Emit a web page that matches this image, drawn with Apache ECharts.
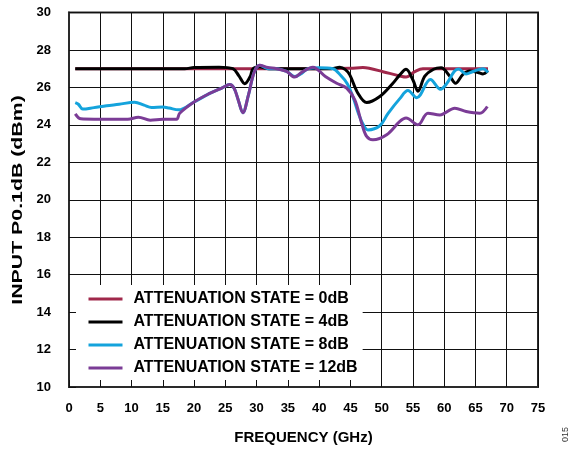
<!DOCTYPE html>
<html>
<head>
<meta charset="utf-8">
<script src="https://cdn.jsdelivr.net/npm/echarts@6/dist/echarts.min.js"></script>
<style>
html,body{margin:0;padding:0;background:#fff;}
#chart{width:574px;height:450px;}
</style>
</head>
<body>
<div id="chart"></div>
<script>
// ---- data ----
var seriesNames = ['ATTENUATION STATE = 0dB','ATTENUATION STATE = 4dB','ATTENUATION STATE = 8dB','ATTENUATION STATE = 12dB'];
var xTicks = [0,5,10,15,20,25,30,35,40,45,50,55,60,65,70,75];
var yTicks = [10,12,14,16,18,20,22,24,26,28,30];
var xTitle = 'FREQUENCY (GHz)';
var yTitle = 'INPUT P0.1dB (dBm)';

var freq0 = [1,5,10,15,20,25,30,35,40,45,47,48,50.2,52.9,53.9,55.3,56.6,58,60,63,67];
var att0  = [27.0,27.0,27.0,27.0,27.0,27.0,27.0,27.0,27.0,27.02,27.06,27.02,26.84,26.61,26.55,26.84,27.0,27.0,27.0,27.0,27.0];

var freq4 = [1,5,10,15,18.5,20,24,26.2,27.2,28.1,29,29.4,30.4,32,35,38,40,42,43.3,44.2,44.9,46.2,47.6,49.7,51.8,52.9,53.9,55,55.8,56.9,58.3,59.5,60.9,61.8,63,64.1,65.4,66.2,67];
var att4  = [27.0,27.0,27.0,27.0,27.0,27.06,27.08,27.0,26.6,26.2,26.6,26.98,27.1,27.0,27.0,27.0,27.0,27.0,27.08,26.95,26.67,25.69,25.19,25.51,26.22,26.67,26.97,26.4,25.8,26.6,26.97,27.05,26.6,26.22,26.7,26.88,26.8,26.72,26.9];

var freq8 = [1,1.5,2.2,4,6,8,10.5,12,13.2,15,16,17.5,20,22.5,24.5,25.7,26.4,27,27.8,28.7,29.6,30.5,31.8,33.2,34.8,36.1,37.2,38.2,40,42.2,43.5,44.5,45.4,46.3,47,47.8,49.7,51,52.9,54.2,55.6,57.8,59.4,60.4,61.6,62.3,63.5,64.6,66.2,67];
var att8  = [25.19,25.1,24.84,24.92,25.02,25.1,25.21,25.05,24.93,24.95,24.9,24.8,25.22,25.68,25.98,26.15,25.95,25.4,24.65,25.6,26.8,27.18,27.0,27.0,26.85,26.58,26.75,27.0,27.05,27.0,26.62,26.2,25.5,24.6,24.05,23.73,23.95,24.6,25.4,25.83,25.45,26.42,25.9,26.2,26.85,26.98,26.72,26.85,27.0,26.8];

var freq12 = [1,1.9,4,7,9.4,11.1,13,15,17.2,17.7,20,22.5,24.5,25.7,26.4,27,27.8,28.7,29.6,30.5,31.8,33.2,34.8,36.1,37.2,39,41,42.8,44.4,45.7,46.8,47.6,48.6,50.8,52.9,53.9,55.8,57.4,59.3,61.7,63.5,65.7,66.9];
var att12  = [24.59,24.32,24.3,24.3,24.3,24.41,24.25,24.3,24.3,24.62,25.22,25.68,25.98,26.15,25.95,25.4,24.65,25.6,26.8,27.18,27.06,27.0,26.85,26.55,26.8,27.08,26.58,26.22,25.96,25.33,24.09,23.38,23.2,23.47,24.18,24.36,24.0,24.62,24.53,24.89,24.71,24.62,24.98];

var colors = ['#a0284b','#000000','#14a3dc','#7b3c96'];

function pairs(xs, ys){ return xs.map(function(x,i){ return [x, ys[i]]; }); }

var font = 'Liberation Sans, Arial, sans-serif';
var chart = echarts.init(document.getElementById('chart'), null, {renderer:'canvas'});

var seriesData = [pairs(freq0,att0), pairs(freq4,att4), pairs(freq8,att8), pairs(freq12,att12)];

var option = {
  animation: false,
  backgroundColor: '#fff',
  grid: {left: 69, right: 36, top: 12.5, bottom: 62.5, show: true, borderColor: '#2a2a2a', borderWidth: 2, backgroundColor: 'transparent'},
  legend: {
    orient: 'vertical', left: 70.5, top: 285,
    padding: [6, 5, 9, 18],
    backgroundColor: '#fff',
    icon: 'rect',
    itemWidth: 34, itemHeight: 3, itemGap: 7,
    data: seriesNames,
    textStyle: {fontFamily: font, fontSize: 16, fontWeight: 'bold', color: '#000', padding: [0,0,0,6]},
    z: 4
  },
  xAxis: [
    {type:'value', min: xTicks[0], max: xTicks[xTicks.length-1], interval: 5,
     axisLine:{show:false}, axisTick:{show:false}, axisLabel:{show:false},
     splitLine:{show:true, lineStyle:{color:'#111', width:1}}, z:0},
    {type:'value', min: xTicks[0], max: xTicks[xTicks.length-1], interval: 5, position:'bottom',
     axisLine:{show:true, lineStyle:{color:'#2a2a2a', width:2}},
     axisTick:{show:true, inside:true, length:7, lineStyle:{color:'#111', width:1}},
     axisLabel:{show:true, margin:15, fontFamily:font, fontSize:13, fontWeight:'bold', color:'#000'},
     splitLine:{show:false},
     name: xTitle, nameLocation:'middle', nameGap:43,
     nameTextStyle:{fontFamily:font, fontSize:15, fontWeight:'bold', color:'#000'}, z:10}
  ],
  yAxis: [
    {type:'value', min: yTicks[0], max: yTicks[yTicks.length-1], interval: 2,
     axisLine:{show:false}, axisTick:{show:false}, axisLabel:{show:false},
     splitLine:{show:true, lineStyle:{color:'#111', width:1}}, z:0},
    {type:'value', min: yTicks[0], max: yTicks[yTicks.length-1], interval: 2, position:'left',
     axisLine:{show:true, lineStyle:{color:'#2a2a2a', width:2}},
     axisTick:{show:true, inside:true, length:7, lineStyle:{color:'#111', width:1}},
     axisLabel:{show:true, margin:18, fontFamily:font, fontSize:13, fontWeight:'bold', color:'#000'},
     splitLine:{show:false}, z:10}
  ],
  graphic: [
    {type:'text', x: 18, y: 200, rotation: Math.PI/2, scaleX: 1.42,
     style:{text: yTitle, font:'bold 15px ' + font, fill:'#000', textAlign:'center', textVerticalAlign:'middle'}},
    {type:'text', left: 561, top: 427, rotation: Math.PI/2,
     style:{text:'015', font:'9px ' + font, fill:'#333'}}
  ],
  series: seriesNames.map(function(n, i){
    return {
      name: n, type: 'line', xAxisIndex: 0, yAxisIndex: 0,
      data: seriesData[i], showSymbol: false, symbol: 'none', smooth: 0.35,
      lineStyle: {color: colors[i], width: 3}, itemStyle: {color: colors[i]},
      z: 2 + i
    };
  })
};
chart.setOption(option);
</script>
</body>
</html>
